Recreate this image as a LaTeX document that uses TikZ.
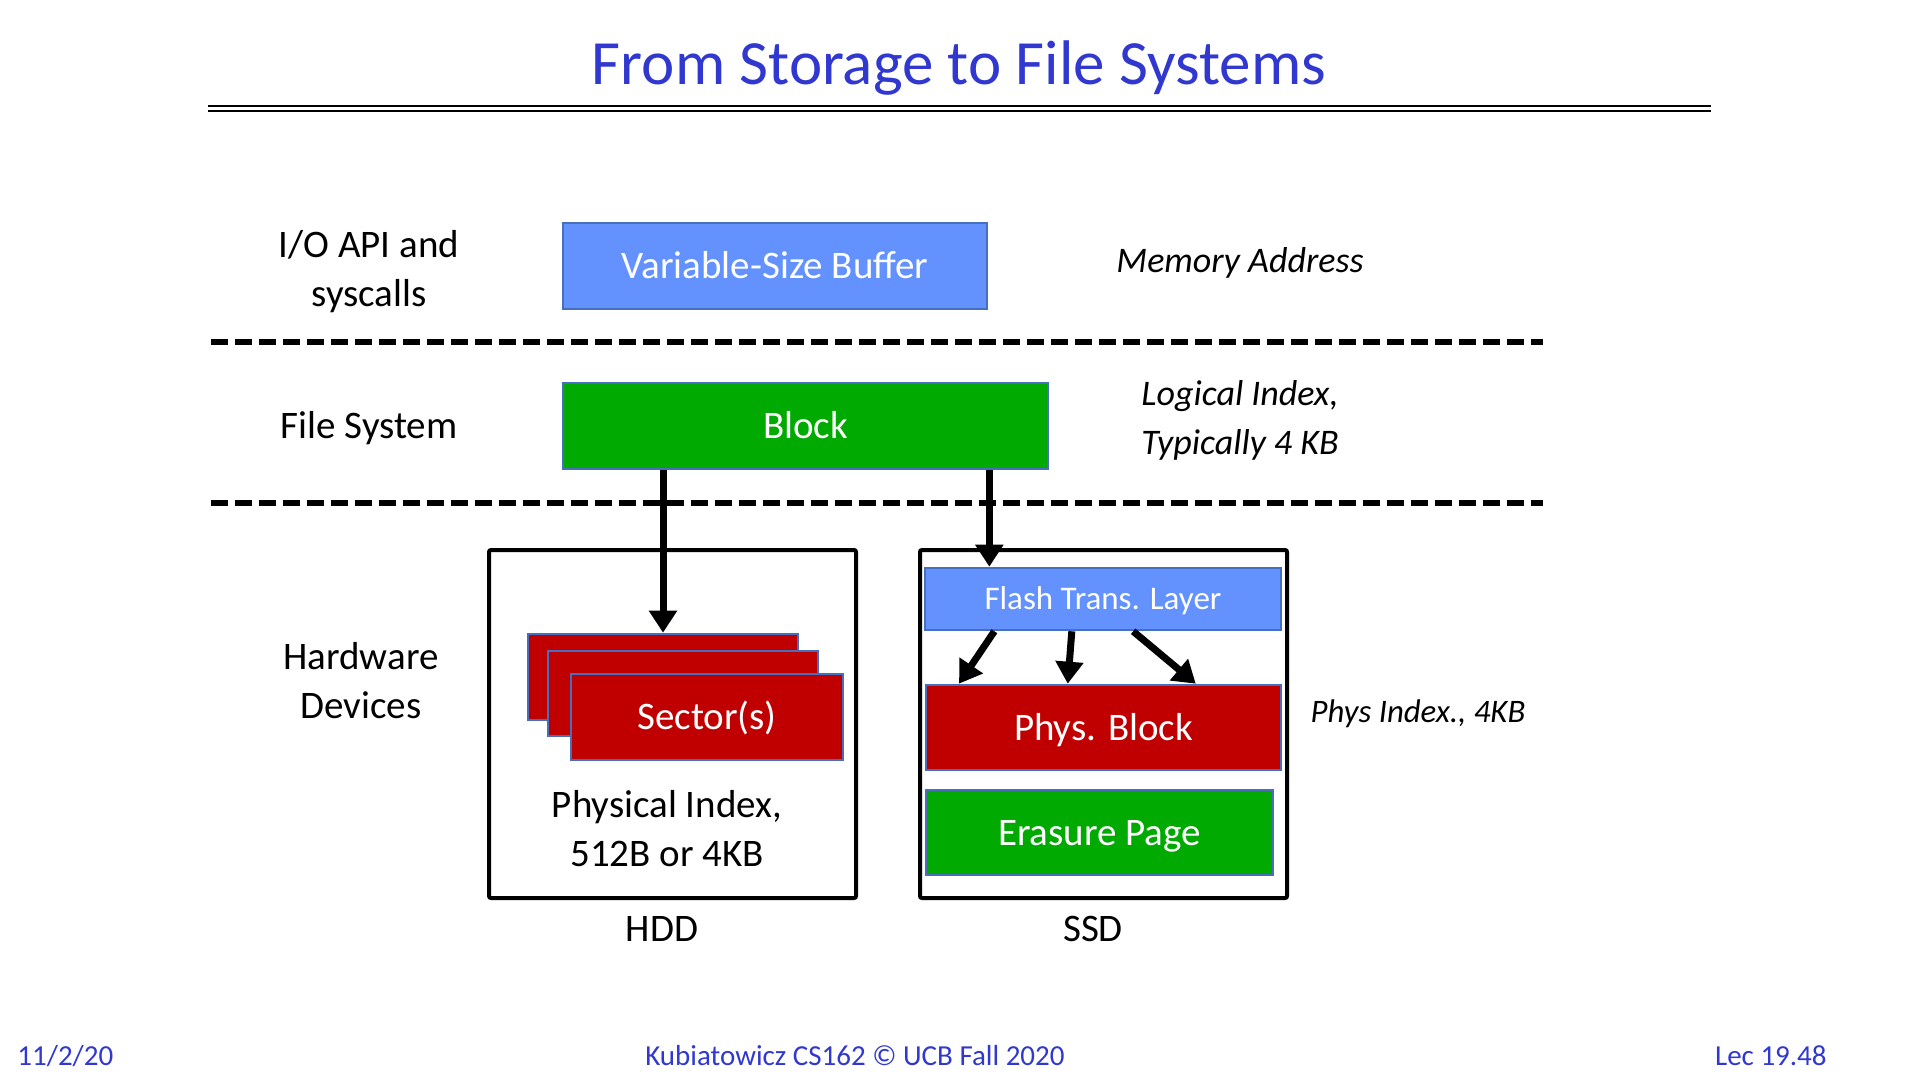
\documentclass[tikz,border=0pt]{standalone}
\usepackage{fontspec}
\setmainfont{Carlito}
\usetikzlibrary{arrows.meta,calc}
\definecolor{titleblue}{RGB}{48,56,208}
\definecolor{boxblue}{RGB}{99,146,255}
\definecolor{edgeblue}{RGB}{72,110,190}
\definecolor{fsgreen}{RGB}{0,170,0}
\definecolor{devred}{RGB}{192,0,0}

\begin{document}
\begin{tikzpicture}[x=0.5pt,y=-0.5pt,
  body/.style={font=\fontsize{19.5}{24.5}\selectfont, align=center, inner sep=0pt},
  note/.style={font=\fontsize{18}{24.5}\selectfont\itshape, align=center, inner sep=0pt},
  foot/.style={font=\fontsize{14.5}{17}\selectfont, text=titleblue, inner sep=0pt},
  layerbox/.style={draw=edgeblue, line width=1.3pt, text=white,
    font=\fontsize{19.5}{24}\selectfont, inner sep=0pt,
    text height=12.6pt, text depth=0pt},
  devbox/.style={draw=black, line width=2pt, rounded corners=1pt, inner sep=0pt},
  sepline/.style={line width=3pt, dash pattern=on 8.5pt off 3.5pt},
  arr/.style={line width=3.5pt, -{Triangle[width=13.5pt,length=11pt]}}
]
\useasboundingbox (0,0) rectangle (1920,1080);

% title and rule
\node[font=\fontsize{31.5}{36}\selectfont, text=titleblue, inner sep=0pt] (title) at (959,68) {From Storage to File Systems};
\draw[line width=1.4pt] (208,106) -- (1711,106);
\draw[line width=1.4pt] (208,111) -- (1711,111);

% layer separators
\draw[sepline] (211,342) -- (1543,342);
\draw[sepline] (211,503) -- (1543,503);

% row labels
\node[body] (iolabel) at (369,272) {I/O API and\\syscalls};
\node[body] (fslabel) at (369,428) {File System};
\node[body] (hwlabel) at (361,681) {Hardware\\Devices};

% addressing notes
\node[note] (memnote) at (1240,263) {Memory Address};
\node[note] (lognote) at (1240,420) {Logical Index,\\Typically 4 KB};
\node[note, font=\fontsize{16.4}{20}\selectfont\itshape] (physnote) at (1418,714) {Phys Index., 4KB};

% API and file system units
\node[layerbox, fill=boxblue, minimum width=212pt, minimum height=43pt] (buffer) at (775,266) {Variable-Size Buffer};
\node[layerbox, fill=fsgreen, minimum width=242.5pt, minimum height=43pt] (block) at (805.5,426) {Block};

% device enclosures
\node[devbox, minimum width=183.5pt, minimum height=174pt] (hdd) at (672.5,724) {};
\node[devbox, minimum width=183.5pt, minimum height=174pt] (ssd) at (1103.5,724) {};
\node[body] (hddname) at (662,929) {HDD};
\node[body] (ssdname) at (1093,929) {SSD};

% disk sectors (stacked)
\node[layerbox, fill=devred, minimum width=135pt, minimum height=43pt] (s1) at (663,677) {};
\node[layerbox, fill=devred, minimum width=135pt, minimum height=42.5pt] (s2) at (683,693.5) {};
\node[layerbox, fill=devred, minimum width=136pt, minimum height=43pt] (s3) at (707,717) {Sector(s)};
\node[body] (hddidx) at (667,829) {Physical Index,\\512B or 4KB};

% flash components
\node[layerbox, fill=boxblue, minimum width=178pt, minimum height=31pt,
  font=\fontsize{16.5}{20}\selectfont, text height=10.6pt] (ftl) at (1103,599) {Flash Trans. Layer};
\node[layerbox, fill=devred, minimum width=177.5pt, minimum height=42.5pt] (pblock) at (1103.5,727.5) {Phys. Block};
\node[layerbox, fill=fsgreen, minimum width=173.5pt, minimum height=42.5pt] (epage) at (1099.5,832.5) {Erasure Page};

% block requests down to the devices
\draw[arr] (s1.north |- block.south) -- (s1.north);
\coordinate (ftlin) at ($(ftl.north west)!0.183!(ftl.north east)$);
\draw[arr] (ftlin |- block.south) -- (ftlin);

% FTL mapping onto physical blocks
\coordinate (m1a) at ($(ftl.south west)!0.197!(ftl.south east)$);
\coordinate (m2a) at ($(ftl.south west)!0.413!(ftl.south east)$);
\coordinate (m3a) at ($(ftl.south west)!0.584!(ftl.south east)$);
\coordinate (m1b) at ($(pblock.north west)!0.096!(pblock.north east)$);
\coordinate (m2b) at ($(pblock.north west)!0.40!(pblock.north east)$);
\coordinate (m3b) at ($(pblock.north west)!0.758!(pblock.north east)$);
\draw[arr] (m1a) -- (m1b);
\draw[arr] (m2a) -- (m2b);
\draw[arr] (m3a) -- (m3b);

% footer
\node[foot, anchor=west] (fdate) at (17,1056) {11/2/20};
\node[foot] (fcourse) at (855,1056) {Kubiatowicz CS162 © UCB Fall 2020};
\node[foot, anchor=east] (flec) at (1827,1056) {Lec 19.48};
\end{tikzpicture}
\end{document}
